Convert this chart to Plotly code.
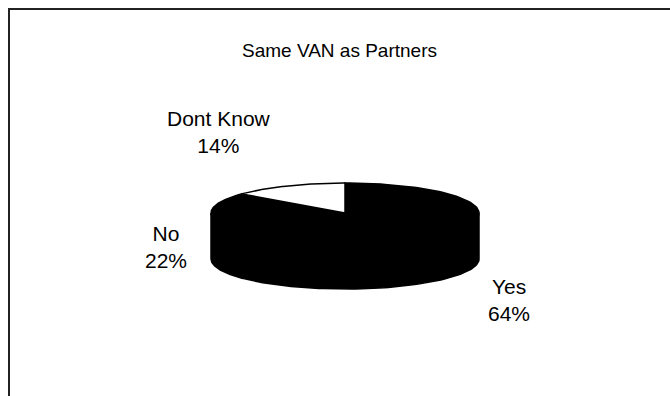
import numpy as np
import plotly.graph_objects as go

# Survey answers and their shares (percent)
categories = ["Yes", "No", "Dont Know"]
shares = [64, 22, 14]
slice_colors = ["#000000", "#000000", "#ffffff"]

title_text = "Same VAN as Partners"

# Pie geometry in page pixels (y grows downward)
W, H = 670, 396
CX, CY = 345, 213
RX, RY = 134, 30
DEPTH = 46


def pt(theta_deg, dy=0.0):
    """Point on the elliptical rim; theta measured clockwise from 12 o'clock."""
    t = np.radians(theta_deg)
    return CX + RX * np.sin(t), CY + dy - RY * np.cos(t)


fig = go.Figure()

# slice boundaries, starting at 12 o'clock going clockwise
total = float(sum(shares))
bounds = np.concatenate([[0.0], np.cumsum(shares) / total * 360.0])

# visible front wall of each slice (between 3 and 9 o'clock through 6)
for i, col in enumerate(slice_colors):
    a, b = max(bounds[i], 90.0), min(bounds[i + 1], 270.0)
    if b <= a:
        continue
    th = np.linspace(a, b, 80)
    xt, yt = pt(th)
    xb, yb = pt(th[::-1], DEPTH)
    fig.add_trace(go.Scatter(
        x=np.concatenate([xt, xb, [xt[0]]]),
        y=np.concatenate([yt, yb, [yt[0]]]),
        fill="toself", fillcolor=col, mode="lines",
        line=dict(color="#000000", width=1.5),
        hoverinfo="skip", showlegend=False))

# top face wedges
for i, col in enumerate(slice_colors):
    th = np.linspace(bounds[i], bounds[i + 1], 120)
    xs, ys = pt(th)
    fig.add_trace(go.Scatter(
        x=np.concatenate([[CX], xs, [CX]]),
        y=np.concatenate([[CY], ys, [CY]]),
        fill="toself", fillcolor=col, mode="lines",
        line=dict(color="#000000", width=1.5),
        hoverinfo="skip", showlegend=False, name=categories[i]))

# data labels
label_pos = {"Yes": (509, 300), "No": (166, 247), "Dont Know": (219, 132)}
for name, val in zip(categories, shares):
    lx, ly = label_pos[name]
    fig.add_annotation(x=lx, y=ly, xref="x", yref="y",
                       text=f"{name}<br>{val}%", showarrow=False,
                       align="center",
                       font=dict(family="Liberation Sans, Arial", size=21,
                                 color="#000000"))

fig.add_annotation(x=339, y=50, xref="x", yref="y", text=title_text,
                   showarrow=False,
                   font=dict(family="Liberation Sans, Arial", size=19,
                             color="#000000"))

# chart frame (top and left edges)
fig.add_shape(type="line", x0=8, y0=9, x1=W, y1=9, xref="x", yref="y",
              line=dict(color="#222222", width=2))
fig.add_shape(type="line", x0=9, y0=9, x1=9, y1=H, xref="x", yref="y",
              line=dict(color="#222222", width=2))

fig.update_layout(
    width=W, height=H,
    margin=dict(l=0, r=0, t=0, b=0),
    paper_bgcolor="#ffffff", plot_bgcolor="#ffffff",
    xaxis=dict(range=[0, W], visible=False, fixedrange=True),
    yaxis=dict(range=[H, 0], visible=False, fixedrange=True),
    showlegend=False,
)

fig.write_html("out.html", config={"displayModeBar": False})
